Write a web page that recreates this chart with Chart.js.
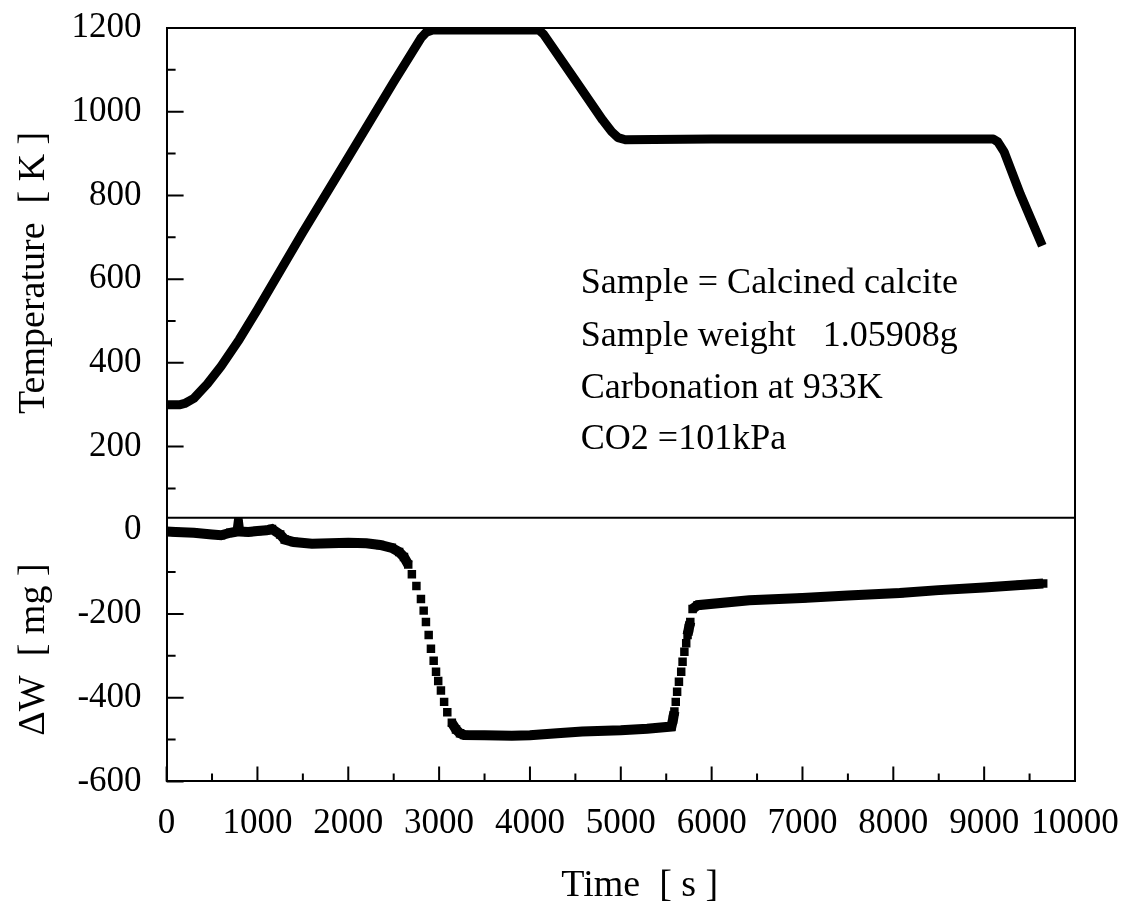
<!DOCTYPE html>
<html>
<head>
<meta charset="utf-8">
<script src="https://cdn.jsdelivr.net/npm/chart.js@4.4.1/dist/chart.umd.min.js"></script>
<style>
  html, body { margin: 0; padding: 0; background: #fff; }
  canvas { display: block; }
</style>
</head>
<body>
<canvas id="myChart" width="1132" height="909"></canvas>
<script>
// tick labels
let timeTicks = [0, 1000, 2000, 3000, 4000, 5000, 6000, 7000, 8000, 9000, 10000];
let tempTicks = [200, 400, 600, 800, 1000, 1200];
let dwTicks = [0, -200, -400, -600];

// temperature [K] vs time [s]
let tempTime  = [0, 150, 200, 300, 450, 600, 800, 1000, 1500, 2000, 2500, 2800, 2860, 2930, 4100, 4150, 4500, 4800, 4900, 4970, 5050, 6000, 9100, 9150, 9220, 9400, 9520, 9640];
let tempValue = [300, 300, 303, 315, 350, 392, 456, 527, 712, 891, 1071, 1176, 1190, 1195, 1195, 1185, 1075, 980, 952, 938, 933, 935, 935, 928, 904, 802, 741, 680];

// weight change dW [mg] vs time [s]
let dwTime  = [0, 100, 300, 500, 600, 700, 780, 790, 800, 900, 1000, 1100, 1160, 1250, 1300, 1400, 1600, 1800, 2000, 2200, 2350, 2480, 2560, 2613, 2660, 2700, 2750, 2800, 2830, 2855, 2885, 2910, 2940, 2966, 2990, 3020, 3055, 3090, 3140, 3186, 3230, 3275, 3500, 3800, 4000, 4300, 4575, 5000, 5290, 5557, 5575, 5590, 5605, 5620, 5640, 5665, 5680, 5700, 5720, 5735, 5750, 5765, 5790, 5845, 6415, 7000, 7500, 8070, 8500, 9000, 9400, 9650];
let dwValue = [-3, -4, -6, -10, -12, -6, -3, 14, -3, -4, -2, 0, 3, -10, -22, -28, -32, -31, -30, -31, -35, -42, -52, -64, -82, -105, -133, -164, -192, -219, -250, -283, -312, -338, -360, -383, -410, -435, -460, -476, -485, -489, -490, -491, -490, -485, -481, -478, -474, -469, -452, -433, -410, -386, -362, -338, -314, -290, -270, -250, -234, -219, -188, -179, -167, -162, -156, -150, -143, -137, -131, -127];

let noteLines = ['Sample = Calcined calcite', 'Sample weight   1.05908g', 'Carbonation at 933K', 'CO2 =101kPa'];

Chart.defaults.font.family = "'Liberation Serif', 'Times New Roman', serif";
Chart.defaults.font.size = 35;
Chart.defaults.color = '#000';

function toPoints(xs, ys) {
    return xs.map((x, i) => ({x: x, y: ys[i]}));
}

function setTicks(list) {
    return function(scale) {
        scale.ticks = list.map(v => ({value: v}));
    };
}

function plainLabel(v) {
    return String(v);
}

// let the end labels hang over the plot edges instead of shrinking it
function noEdgePadding(scale) {
    scale.paddingTop = 0;
    scale.paddingBottom = 0;
    scale.paddingLeft = 0;
    scale.paddingRight = 0;
}

// frame, divider, inward ticks and the note text
let framePlugin = {
    id: 'frame',
    afterDraw(chart) {
        let ctx = chart.ctx;
        let area = chart.chartArea;
        let x = chart.scales.x;
        let yT = chart.scales.yT;
        let yW = chart.scales.yW;
        ctx.save();
        ctx.strokeStyle = '#000';
        ctx.lineWidth = 2;
        ctx.beginPath();
        ctx.moveTo(area.left, area.top);
        ctx.lineTo(area.right, area.top);
        ctx.lineTo(area.right, area.bottom);
        ctx.moveTo(area.left, yT.bottom);
        ctx.lineTo(area.right, yT.bottom);
        // x ticks
        for (let i = 0; i < timeTicks.length; i++) {
            let px = x.getPixelForValue(timeTicks[i]);
            ctx.moveTo(px, area.bottom);
            ctx.lineTo(px, area.bottom - 15);
            if (i < timeTicks.length - 1) {
                let mx = x.getPixelForValue((timeTicks[i] + timeTicks[i + 1]) / 2);
                ctx.moveTo(mx, area.bottom);
                ctx.lineTo(mx, area.bottom - 8);
            }
        }
        // y ticks
        [[yT, tempTicks.concat([0])], [yW, dwTicks]].forEach(([sc, list]) => {
            for (let i = 0; i < list.length; i++) {
                let v = list[i];
                if (v >= sc.min && v <= sc.max) {
                    let py = sc.getPixelForValue(v);
                    ctx.moveTo(area.left, py);
                    ctx.lineTo(area.left + 17, py);
                }
                let m = v - 100;
                if (m >= sc.min && m <= sc.max) {
                    let my = sc.getPixelForValue(m);
                    ctx.moveTo(area.left, my);
                    ctx.lineTo(area.left + 9, my);
                }
            }
        });
        ctx.stroke();
        // note
        ctx.fillStyle = '#000';
        ctx.font = "36px 'Liberation Serif', 'Times New Roman', serif";
        ctx.textAlign = 'left';
        ctx.textBaseline = 'alphabetic';
        let noteY = [566, 441, 317, 194];
        noteLines.forEach((s, i) => {
            ctx.fillText(s, x.getPixelForValue(4560), yT.getPixelForValue(noteY[i]));
        });
        ctx.restore();
    }
};

let titleFont = {size: 38};

let myChart = document.getElementById('myChart').getContext('2d');
let tgaChart = new Chart(myChart, {
    type: 'scatter',
    data: {
        datasets: [{
            label: 'Temperature',
            data: toPoints(tempTime, tempValue),
            yAxisID: 'yT',
            showLine: true,
            borderColor: '#000',
            borderWidth: 9,
            borderJoinStyle: 'round',
            borderCapStyle: 'butt',
            pointRadius: 0,
            tension: 0
        }, {
            label: 'dW',
            data: toPoints(dwTime, dwValue),
            yAxisID: 'yW',
            showLine: true,
            borderColor: '#000',
            borderWidth: 10,
            backgroundColor: '#000',
            pointStyle: 'rect',
            pointRadius: 6,
            pointBorderWidth: 0,
            segment: {
                borderColor: ctx => Math.abs(ctx.p1.y - ctx.p0.y) > 8 ? 'rgba(0,0,0,0)' : '#000'
            }
        }]
    },
    options: {
        responsive: false,
        animation: false,
        devicePixelRatio: 1,
        layout: {padding: {left: 3, right: 57, top: 28, bottom: 0}},
        plugins: {legend: {display: false}, tooltip: {enabled: false}},
        scales: {
            x: {
                type: 'linear',
                min: 0,
                max: 10000,
                afterBuildTicks: setTicks(timeTicks),
                afterFit: noEdgePadding,
                grid: {display: false, drawTicks: false},
                border: {color: '#000', width: 2},
                ticks: {padding: 21, maxRotation: 0, autoSkip: false, callback: plainLabel},
                title: {display: true, text: '    Time  [ s ]', font: titleFont, padding: {top: -2, bottom: 0}}
            },
            yW: {
                type: 'linear',
                position: 'left',
                stack: 'y',
                stackWeight: 630,
                min: -600,
                max: 30,
                afterBuildTicks: setTicks(dwTicks),
                afterFit: noEdgePadding,
                grid: {display: false, drawTicks: false},
                border: {color: '#000', width: 2},
                ticks: {padding: 25, autoSkip: false, callback: plainLabel},
                title: {display: true, text: '\u0394W  [ mg ]', font: titleFont, padding: {top: 8, bottom: -10}}
            },
            yT: {
                type: 'linear',
                position: 'left',
                stack: 'y',
                stackWeight: 1170,
                min: 30,
                max: 1200,
                afterBuildTicks: setTicks(tempTicks),
                afterFit: noEdgePadding,
                grid: {display: false, drawTicks: false},
                border: {color: '#000', width: 2},
                ticks: {padding: 25, autoSkip: false, callback: plainLabel},
                title: {display: true, text: 'Temperature  [ K ]', font: titleFont, padding: {top: 8, bottom: -10}}
            }
        }
    },
    plugins: [framePlugin]
});
</script>
</body>
</html>
